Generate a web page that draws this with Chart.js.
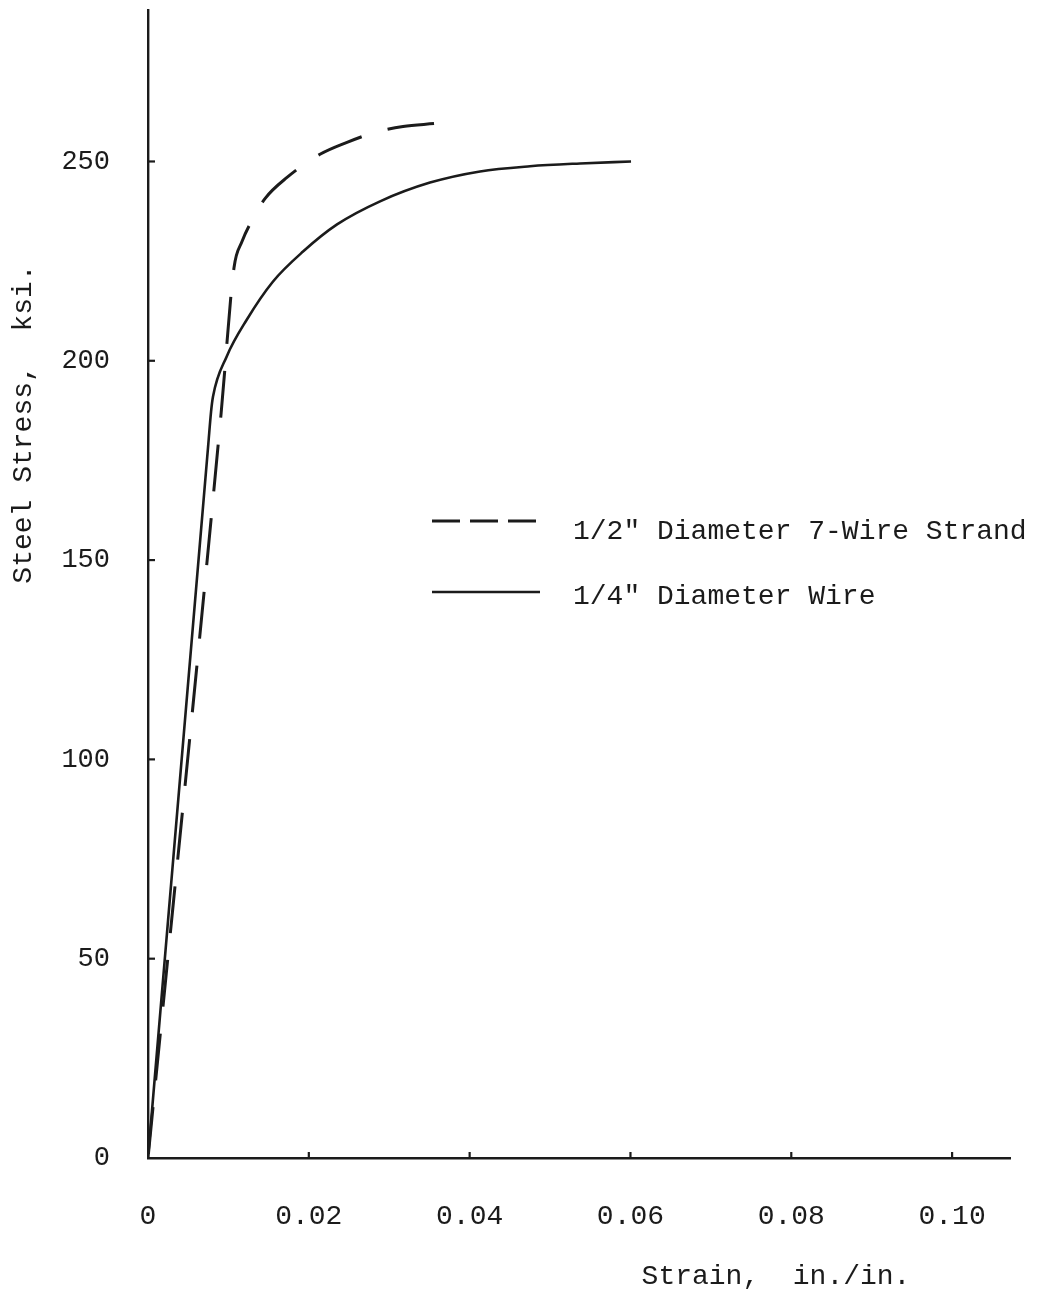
<!DOCTYPE html>
<html><head><meta charset="utf-8">
<script src="https://cdn.jsdelivr.net/npm/chart.js@4.4.0/dist/chart.umd.min.js"></script>
<style>html,body{margin:0;padding:0;background:#fff;}#wrap{width:1044px;height:1303px;position:relative;}</style>
</head><body><div id="wrap"><canvas id="c" width="1044" height="1303"></canvas></div>
<script>
// ---- data ----
const strandStrain = [0, 0.0091, 0.0107, 0.01169, 0.01306, 0.01455, 0.01729, 0.02139, 0.02475, 0.02823, 0.03172, 0.03557];
const strandStress = [0, 187.0, 223.4, 229.9, 235.7, 240.7, 246.0, 251.8, 254.8, 257.3, 258.8, 259.5];
const wireStrain = [0, 0.0075, 0.00784, 0.00808, 0.00979, 0.01228, 0.01555, 0.01928, 0.02351, 0.02886, 0.03507, 0.04129, 0.04751, 0.05373, 0.06007];
const wireStress = [0, 179.1, 187.2, 191.0, 201.1, 210.3, 219.9, 227.4, 234.2, 240.0, 244.7, 247.5, 248.8, 249.5, 250.0];
const xTicks = [0, 0.02, 0.04, 0.06, 0.08, 0.10];
const xTickLabels = ['0', '0.02', '0.04', '0.06', '0.08', '0.10'];
const yTicks = [0, 50, 100, 150, 200, 250];
const yTickLabels = ['0', '50', '100', '150', '200', '250'];
const seriesLabels = ['1/2" Diameter 7-Wire Strand', '1/4" Diameter Wire'];
const xTitle = 'Strain,  in./in.';
const yTitle = 'Steel Stress,  ksi.';

const INK = '#1b1b1b';
const FONT = "'Liberation Mono', 'DejaVu Sans Mono', monospace";

const toPts = (xs, ys) => xs.map((v, i) => ({x: v, y: ys[i]}));

const overlay = {
  id: 'overlay',
  afterDraw(chart) {
    const {ctx, chartArea} = chart;
    const x = chart.scales.x, y = chart.scales.y;
    ctx.save();
    // inward tick marks
    ctx.strokeStyle = INK; ctx.lineWidth = 2.2; ctx.setLineDash([]);
    yTicks.forEach(v => {
      if (v === 0) return;
      const py = y.getPixelForValue(v);
      ctx.beginPath(); ctx.moveTo(chartArea.left, py); ctx.lineTo(chartArea.left + 7, py); ctx.stroke();
    });
    xTicks.forEach(v => {
      if (v === 0) return;
      const px = x.getPixelForValue(v);
      ctx.beginPath(); ctx.moveTo(px, chartArea.bottom); ctx.lineTo(px, chartArea.bottom - 6); ctx.stroke();
    });
    // legend
    const ds = chart.data.datasets;
    const rows = [{ly: 521, ty: 532}, {ly: 592, ty: 597}];
    ds.forEach((d, i) => {
      ctx.strokeStyle = d.borderColor; ctx.lineWidth = d.borderWidth;
      ctx.setLineDash(i === 0 ? [28, 10] : []);
      ctx.beginPath(); ctx.moveTo(432, rows[i].ly); ctx.lineTo(540, rows[i].ly); ctx.stroke();
      ctx.setLineDash([]);
      ctx.fillStyle = INK; ctx.font = "28px " + FONT;
      ctx.textAlign = 'left'; ctx.textBaseline = 'middle';
      ctx.fillText(d.label, 573, rows[i].ty);
    });
    // axis titles
    ctx.fillStyle = INK; ctx.font = "28px " + FONT;
    ctx.textAlign = 'center'; ctx.textBaseline = 'middle';
    ctx.fillText(xTitle, 776, 1277);
    ctx.translate(24, 424); ctx.rotate(-Math.PI / 2);
    ctx.fillText(yTitle, 0, 0);
    ctx.restore();
  }
};

new Chart(document.getElementById('c'), {
  type: 'line',
  data: {
    datasets: [
      {label: seriesLabels[0], data: toPts(strandStrain, strandStress), borderColor: INK, borderWidth: 3,
       borderDash: [47, 27], borderDashOffset: 70, pointRadius: 0, fill: false, cubicInterpolationMode: 'monotone'},
      {label: seriesLabels[1], data: toPts(wireStrain, wireStress), borderColor: INK, borderWidth: 2.6,
       pointRadius: 0, fill: false, cubicInterpolationMode: 'monotone'}
    ]
  },
  options: {
    responsive: false, animation: false, devicePixelRatio: 1,
    layout: {autoPadding: false, padding: {top: 10, right: 34, left: 0, bottom: 0}},
    plugins: {legend: {display: false}, tooltip: {enabled: false}},
    scales: {
      x: {
        type: 'linear', min: 0, max: 0.1072,
        afterBuildTicks: s => { s.ticks = xTicks.map(v => ({value: v})); },
        afterFit: s => { s.height = 145; s.paddingLeft = 0; s.paddingRight = 0; },
        grid: {display: false, drawTicks: false},
        border: {display: true, color: INK, width: 2.4},
        ticks: {color: INK, font: {family: FONT, size: 28}, padding: 42, maxRotation: 0,
                callback: (v) => { const i = xTicks.findIndex(t => Math.abs(t - v) < 1e-9); return i >= 0 ? xTickLabels[i] : ''; }}
      },
      y: {
        type: 'linear', min: 0, max: 288,
        afterBuildTicks: s => { s.ticks = yTicks.map(v => ({value: v})); },
        afterFit: s => { s.width = 148; s.paddingTop = 0; s.paddingBottom = 0; },
        grid: {display: false, drawTicks: false},
        border: {display: true, color: INK, width: 2.4},
        ticks: {color: INK, font: {family: FONT, size: 27}, padding: 38,
                callback: (v) => { const i = yTicks.indexOf(v); return i >= 0 ? yTickLabels[i] : ''; }}
      }
    }
  },
  plugins: [overlay]
});
</script></body></html>
